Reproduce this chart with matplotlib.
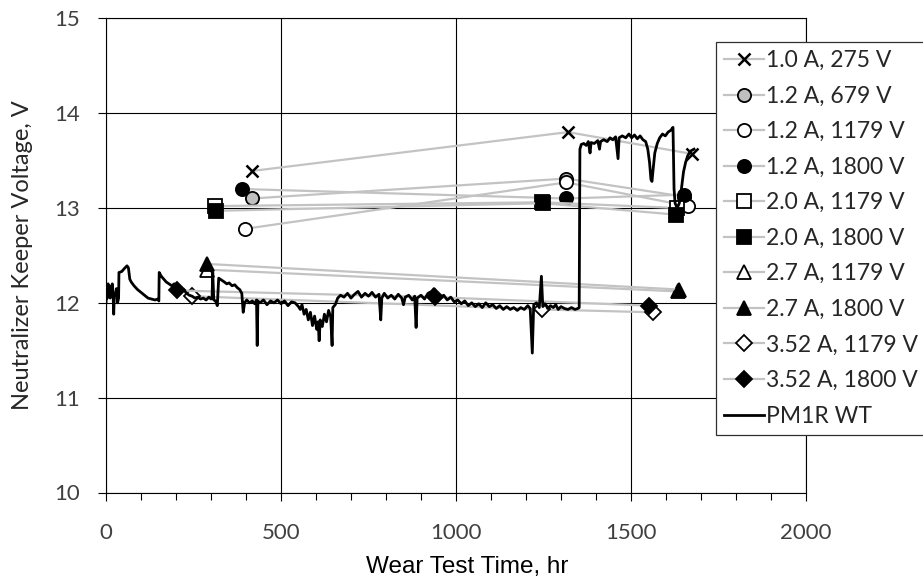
import matplotlib
matplotlib.use("Agg")
import matplotlib.pyplot as plt
from matplotlib.ticker import MultipleLocator

# measured series: wear test time (hr), keeper voltage (V)
labels = ["1.0 A, 275 V", "1.2 A, 679 V", "1.2 A, 1179 V", "1.2 A, 1800 V",
          "2.0 A, 1179 V", "2.0 A, 1800 V", "2.7 A, 1179 V", "2.7 A, 1800 V",
          "3.52 A, 1179 V", "3.52 A, 1800 V"]
t_10_275 = [417, 1320, 1674]
v_10_275 = [13.39, 13.80, 13.57]
t_12_679 = [417, 1315, 1651]
v_12_679 = [13.10, 13.31, 13.12]
t_12_1179 = [397, 1315, 1663]
v_12_1179 = [12.78, 13.27, 13.02]
t_12_1800 = [389, 1315, 1651]
v_12_1800 = [13.20, 13.10, 13.14]
t_20_1179 = [311, 1246, 1631]
v_20_1179 = [13.02, 13.06, 13.00]
t_20_1800 = [314, 1249, 1628]
v_20_1800 = [12.97, 13.05, 12.93]
t_27_1179 = [289, 1634]
v_27_1179 = [12.35, 12.12]
t_27_1800 = [289, 1637]
v_27_1800 = [12.41, 12.14]
t_352_1179 = [245, 1245, 1563]
v_352_1179 = [12.07, 11.93, 11.90]
t_352_1800 = [203, 940, 1551]
v_352_1800 = [12.13, 12.06, 11.97]

# PM1R wear test trace
pm1r_wt = [
    (0, 12.0), (2, 12.15), (4, 12.05), (6, 12.2), (8, 12.1), (10, 12.18), (12, 12.05),
    (14, 12.15), (16, 12.1), (18, 12.2), (20, 12.12), (22, 11.88), (24, 12.1), (27, 12.08),
    (30, 12.15), (33, 12.0), (36, 12.05),
    (37, 12.32), (45, 12.33), (52, 12.36), (60, 12.39), (64, 12.37), (68, 12.25), (72, 12.22),
    (80, 12.18), (90, 12.14), (100, 12.11), (110, 12.08), (120, 12.05), (130, 12.04),
    (140, 12.03), (148, 12.04), (151, 12.02),
    (152, 12.32), (158, 12.28), (165, 12.25), (172, 12.22), (180, 12.2), (188, 12.18),
    (195, 12.2), (200, 12.15), (208, 12.17), (215, 12.12), (222, 12.14), (230, 12.1),
    (238, 12.08), (246, 12.07), (254, 12.05), (262, 12.06), (270, 12.04), (278, 12.05),
    (286, 12.03), (294, 12.06), (300, 12.04), (303, 12.05), (305, 12.32), (308, 12.03),
    (313, 12.02), (318, 11.97), (322, 12.26), (330, 12.24), (338, 12.22), (345, 12.2),
    (352, 12.21), (360, 12.18), (368, 12.19), (375, 12.16), (382, 12.14), (388, 12.1),
    (392, 11.9), (396, 12.0), (402, 12.03), (410, 12.0), (418, 12.02), (425, 11.99),
    (430, 12.03), (432, 11.55), (434, 12.02), (440, 12.0), (450, 12.03), (460, 11.98),
    (470, 12.02), (480, 12.0), (490, 12.03), (500, 11.99), (510, 12.02), (520, 11.97),
    (530, 12.01), (540, 12.0), (550, 11.96),
    (555, 11.93), (560, 11.98), (566, 11.88), (572, 11.93), (578, 11.82), (584, 11.9),
    (590, 11.76), (596, 11.86), (602, 11.72), (606, 11.8), (609, 11.6), (612, 11.82),
    (618, 11.75), (624, 11.88), (630, 11.8), (636, 11.92), (642, 11.85), (646, 11.55),
    (648, 11.95), (655, 11.98), (662, 12.05), (670, 12.08),
    (680, 12.06), (690, 12.1), (700, 12.05), (710, 12.09), (720, 12.12), (730, 12.06),
    (740, 12.1), (750, 12.07), (760, 12.11), (770, 12.06), (780, 12.09), (785, 11.82),
    (788, 12.05), (795, 12.1), (805, 12.05), (815, 12.08), (825, 12.04), (835, 12.09),
    (845, 12.05), (850, 11.98), (855, 12.06), (865, 12.08), (875, 12.03), (882, 12.07),
    (886, 11.74), (889, 12.05), (900, 12.08), (910, 12.04), (920, 12.1), (930, 12.12),
    (937, 12.15), (945, 12.1), (955, 12.06), (965, 12.08), (975, 12.03), (985, 12.06),
    (995, 12.01),
    (1005, 12.03), (1015, 11.99), (1025, 12.02), (1035, 11.97), (1045, 12.0), (1055, 11.96),
    (1065, 11.99), (1075, 11.95), (1085, 12.0), (1095, 11.96), (1105, 11.98), (1115, 11.94),
    (1125, 11.97), (1135, 11.93), (1145, 11.96), (1155, 11.93), (1165, 11.95), (1175, 11.92),
    (1185, 11.95), (1195, 11.93), (1205, 11.97), (1212, 11.94), (1218, 11.47), (1222, 11.98),
    (1230, 12.0), (1238, 11.95), (1244, 12.28), (1248, 11.96), (1255, 11.99), (1262, 11.94),
    (1270, 11.97), (1278, 11.95), (1285, 11.98), (1292, 11.93), (1300, 11.96), (1310, 11.94),
    (1320, 11.93), (1330, 11.95), (1340, 11.93), (1348, 11.94), (1352, 11.95),
    (1354, 13.62), (1358, 13.67), (1365, 13.68), (1372, 13.66), (1378, 13.7), (1383, 13.58),
    (1386, 13.69), (1395, 13.68), (1405, 13.71), (1410, 13.62), (1413, 13.7), (1422, 13.72),
    (1432, 13.7), (1440, 13.74), (1448, 13.72), (1456, 13.75), (1463, 13.52), (1466, 13.74),
    (1475, 13.76), (1485, 13.74), (1494, 13.78), (1502, 13.74), (1510, 13.77), (1518, 13.73),
    (1526, 13.76), (1534, 13.72), (1542, 13.7), (1548, 13.62), (1553, 13.48), (1557, 13.3),
    (1560, 13.28), (1563, 13.4), (1568, 13.58), (1575, 13.68), (1582, 13.74), (1590, 13.78),
    (1598, 13.76), (1606, 13.8), (1614, 13.82), (1620, 13.85), (1623, 13.2), (1626, 13.05),
    (1632, 13.0), (1638, 13.05), (1644, 13.2), (1650, 13.38), (1656, 13.48), (1662, 13.55),
    (1670, 13.6), (1680, 13.62),
]
trace_t = [p[0] for p in pm1r_wt]
trace_v = [p[1] for p in pm1r_wt]

x_ticks = [0, 500, 1000, 1500, 2000]
y_ticks = [10, 11, 12, 13, 14, 15]

fig = plt.figure(figsize=(9.23, 5.77), dpi=100)
ax = fig.add_axes([106 / 923, 84.5 / 577, 700 / 923, 474.2 / 577])

gray = "#c3c3c3"
series = [
    (t_10_275, v_10_275, dict(marker="x", ms=9, mew=1.8, mec="black")),
    (t_12_679, v_12_679, dict(marker="o", ms=9.5, mfc="#bfbfbf", mec="black", mew=1.3)),
    (t_12_1179, v_12_1179, dict(marker="o", ms=9.5, mfc="white", mec="black", mew=1.3)),
    (t_12_1800, v_12_1800, dict(marker="o", ms=9.5, mfc="black", mec="black", mew=1.3)),
    (t_20_1179, v_20_1179, dict(marker="s", ms=9.5, mfc="white", mec="black", mew=1.3)),
    (t_20_1800, v_20_1800, dict(marker="s", ms=9.5, mfc="black", mec="black", mew=1.3)),
    (t_27_1179, v_27_1179, dict(marker="^", ms=10, mfc="white", mec="black", mew=1.3)),
    (t_27_1800, v_27_1800, dict(marker="^", ms=10, mfc="black", mec="black", mew=1.3)),
    (t_352_1179, v_352_1179, dict(marker="D", ms=8, mfc="white", mec="black", mew=1.3)),
    (t_352_1800, v_352_1800, dict(marker="D", ms=8, mfc="black", mec="black", mew=1.3)),
]
for (t, v, style), lab in zip(series, labels):
    ax.plot(t, v, color=gray, lw=1.6, label=lab, **style)

ax.plot(trace_t, trace_v, color="black", lw=2.0, label="PM1R WT")

ax.set_xlim(0, 2000)
ax.set_ylim(10, 15)
ax.set_xticks(x_ticks)
ax.set_yticks(y_ticks)
ax.xaxis.set_minor_locator(MultipleLocator(100))
ax.grid(True, which="major", color="black", lw=0.8)
for s in ax.spines.values():
    s.set_color("black")
    s.set_linewidth(0.8)

ax.tick_params(axis="x", which="major", direction="out", length=6, width=0.8,
               pad=16, labelsize=16, labelcolor="#404040")
ax.tick_params(axis="x", which="minor", direction="out", length=5, width=0.8)
ax.tick_params(axis="y", which="major", direction="out", length=6, width=0.8,
               pad=13, labelsize=16, labelcolor="#404040")
for lbl in ax.get_xticklabels() + ax.get_yticklabels():
    lbl.set_family(["Lato", "DejaVu Sans"])

ax.set_xlabel("Wear Test Time, hr", family=["Liberation Sans", "DejaVu Sans"], fontsize=17.5)
ax.xaxis.set_label_coords(0.516, -0.133)
ax.set_ylabel("Neutralizer Keeper Voltage, V", family=["Lato", "DejaVu Sans"], fontsize=17,
              color="#262626")
ax.yaxis.set_label_coords(-0.104, 0.5)

leg = ax.legend(loc="upper left", bbox_to_anchor=(716 / 923, 1 - 42 / 577),
                bbox_transform=fig.transFigure, borderaxespad=0, fancybox=False,
                framealpha=1, edgecolor="#303030", handlelength=1.75,
                handletextpad=0.1, labelspacing=0.635, borderpad=0.35,
                prop={"family": ["Lato", "DejaVu Sans"], "size": 16.5})
leg.get_frame().set_linewidth(0.9)
for txt in leg.get_texts():
    txt.set_color("#262626")

fig.savefig("out.png", dpi=100)
